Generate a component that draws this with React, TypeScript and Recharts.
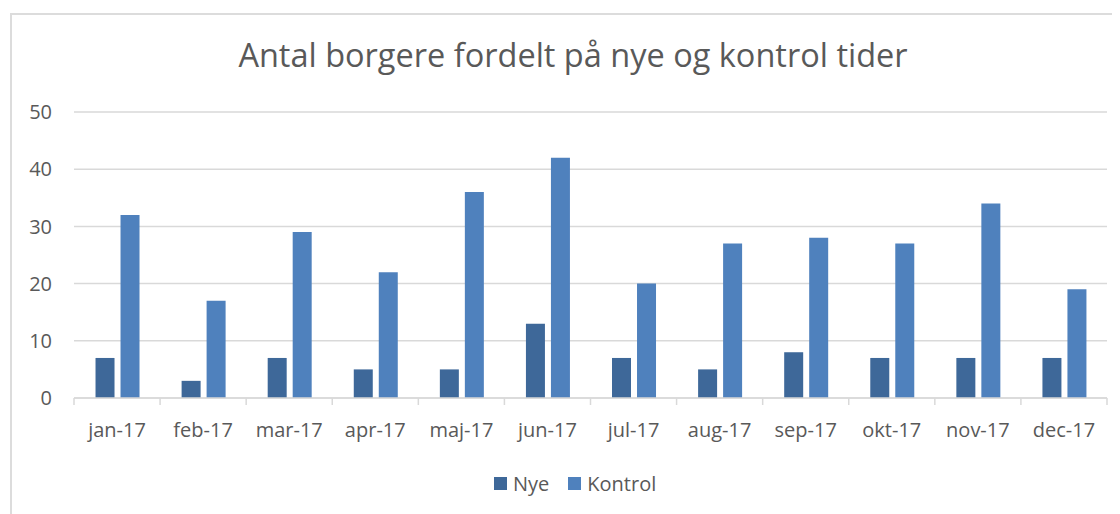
import React from 'react';
import { BarChart, Bar, XAxis, YAxis, CartesianGrid, Legend } from 'recharts';

const months = ['jan-17', 'feb-17', 'mar-17', 'apr-17', 'maj-17', 'jun-17', 'jul-17', 'aug-17', 'sep-17', 'okt-17', 'nov-17', 'dec-17'];
const nye = [7, 3, 7, 5, 5, 13, 7, 5, 8, 7, 7, 7];
const kontrol = [32, 17, 29, 22, 36, 42, 20, 27, 28, 27, 34, 19];
const yTicks = [0, 10, 20, 30, 40, 50];
const seriesOrder = ['Nye', 'Kontrol'];
const title = 'Antal borgere fordelt på nye og kontrol tider';

const data = months.map((m, i) => ({ month: m, Nye: nye[i], Kontrol: kontrol[i] }));

const FONT = '"Open Sans", sans-serif';
const TEXT = '#595959';
const GRID = '#d9d9d9';

const LegendContent = (props: any) => {
  const payload = [...(props.payload || [])].sort(
    (a: any, b: any) => seriesOrder.indexOf(a.value) - seriesOrder.indexOf(b.value)
  );
  return (
    <div style={{ display: 'flex', alignItems: 'center', height: 30, fontFamily: FONT, fontSize: 20, color: TEXT }}>
      {payload.map((p: any, i: number) => (
        <div key={i} style={{ display: 'flex', alignItems: 'center', marginRight: 19 }}>
          <span style={{ display: 'inline-block', width: 13, height: 13, background: p.color, marginRight: 6 }} />
          <span>{p.value}</span>
        </div>
      ))}
    </div>
  );
};

const MonthTick = (props: any) => {
  const { x, y, payload, index, visibleTicksCount } = props;
  const half = payload && payload.offset ? payload.offset : 0;
  const axisY = y - 25;
  const isLast = index === (visibleTicksCount ?? months.length) - 1;
  return (
    <g>
      <line x1={x - half} x2={x - half} y1={axisY} y2={axisY + 7} stroke={GRID} strokeWidth={1.5} />
      {isLast && <line x1={x + half} x2={x + half} y1={axisY} y2={axisY + 7} stroke={GRID} strokeWidth={1.5} />}
      <text x={x} y={y} dy="0.71em" textAnchor="middle" fill={TEXT} fontSize={20} fontFamily={FONT}>
        {payload.value}
      </text>
    </g>
  );
};

export default function App() {
  return (
    <div style={{ position: 'relative', width: 1112, height: 506, overflow: 'hidden', background: '#fff' }}>
      <div style={{ position: 'absolute', left: 2, top: 5, width: 1200, height: 600, borderTop: '2px solid #dcdcdc', borderLeft: '2px solid #dcdcdc' }} />
      <BarChart
        width={1112}
        height={506}
        data={data}
        margin={{ top: 104, right: 13, left: 6, bottom: 16 }}
        barCategoryGap="25%"
        barGap={6}
      >
        <CartesianGrid vertical={false} stroke={GRID} strokeWidth={1.5} />
        <XAxis
          dataKey="month"
          height={70}
          axisLine={{ stroke: GRID, strokeWidth: 1.5 }}
          tickLine={false}
          tickSize={6}
          tickMargin={19}
          interval={0}
          tick={<MonthTick />}
        />
        <YAxis
          width={60}
          domain={[0, 50]}
          ticks={yTicks}
          axisLine={false}
          tickLine={false}
          tickMargin={16}
          tick={{ fill: TEXT, fontSize: 20, fontFamily: FONT }}
        />
        <Legend
          verticalAlign="bottom"
          height={30}
          content={<LegendContent />}
          wrapperStyle={{ left: 486, width: 260, height: 30 }}
        />
        <Bar dataKey="Nye" fill="#3e6899" isAnimationActive={false} />
        <Bar dataKey="Kontrol" fill="#4f81bd" isAnimationActive={false} />
      </BarChart>
      <svg style={{ position: 'absolute', left: 0, top: 0, pointerEvents: 'none' }} width={1112} height={100}>
        <text x={565} y={59} textAnchor="middle" fontFamily={FONT} fontSize={32.5} fill={TEXT}>{title}</text>
      </svg>
    </div>
  );
}
